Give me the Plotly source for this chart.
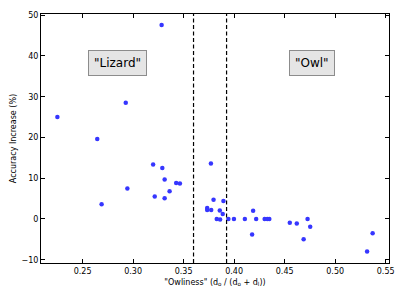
import plotly.graph_objects as go

owliness = [0.225, 0.2645, 0.2688, 0.2927, 0.2943, 0.3282, 0.3198, 0.3289, 0.3312, 0.3214,
            0.3312, 0.3361, 0.3426, 0.3463, 0.3770, 0.3796, 0.3733, 0.3733, 0.3773, 0.3828,
            0.3858, 0.3861, 0.3887, 0.3894, 0.3943, 0.3998, 0.4106, 0.4188, 0.4178, 0.4218,
            0.4302, 0.4328, 0.4348, 0.4551, 0.4620, 0.4688, 0.4727, 0.4753, 0.5316, 0.5371]
accuracy_increase = [25.0, 19.6, 3.6, 28.5, 7.5, 47.6, 13.4, 12.5, 9.7, 5.5,
                     5.1, 6.8, 8.8, 8.7, 13.6, 4.7, 2.7, 2.2, 2.2, 0.0,
                     2.1, -0.1, 1.2, 4.4, 0.0, 0.0, 0.0, 2.0, -3.8, 0.0,
                     0.0, 0.0, 0.0, -0.9, -1.1, -5.0, 0.0, -1.9, -8.0, -3.5]
thresholds = [0.3598, 0.3925]
region_labels = ['"Lizard"', '"Owl"']
region_x = [0.2846, 0.4775]
region_y = [38.2, 38.2]
x_ticks = [0.25, 0.30, 0.35, 0.40, 0.45, 0.50, 0.55]
y_ticks = [-10, 0, 10, 20, 30, 40, 50]

font = "DejaVu Sans"

fig = go.Figure()
fig.add_trace(go.Scatter(
    x=owliness, y=accuracy_increase, mode="markers",
    marker=dict(color="#3636ff", size=4.5, line=dict(width=0)),
    showlegend=False,
))

for t in thresholds:
    fig.add_shape(type="line", x0=t, x1=t, xref="x", y0=0, y1=1, yref="paper",
                  line=dict(color="black", width=1.2, dash="4px,2.5px"))

for lab, lx, ly in zip(region_labels, region_x, region_y):
    fig.add_annotation(x=lx, y=ly, xref="x", yref="y", text=lab, showarrow=False,
                       font=dict(family=font, size=12, color="black"),
                       bgcolor="#e5e5e5", bordercolor="#8c8c8c", borderwidth=1,
                       borderpad=5)

axis_common = dict(showline=True, linecolor="black", linewidth=1, mirror="ticks",
                   ticks="inside", ticklen=4, tickcolor="black", showgrid=False,
                   zeroline=False, tickfont=dict(family=font, size=8, color="black"))

fig.update_layout(
    width=406, height=305,
    margin=dict(l=41, r=14, t=11, b=42),
    paper_bgcolor="white", plot_bgcolor="white",
    xaxis=dict(range=[0.2088, 0.5533], tickvals=x_ticks, tickformat=".2f",
               title=dict(text='"Owliness" (d<sub>o</sub> / (d<sub>o</sub> + d<sub>l</sub>))',
                          font=dict(family=font, size=8, color="black"), standoff=4),
               **axis_common),
    yaxis=dict(range=[-10.8, 50.3], tickvals=y_ticks,
               title=dict(text="Accuracy Increase (%)",
                          font=dict(family=font, size=8, color="black"), standoff=3),
               **axis_common),
)

fig.write_html("out.html", config={"displayModeBar": False},
               post_script="document.body.style.margin='0';document.body.style.overflow='hidden';")
